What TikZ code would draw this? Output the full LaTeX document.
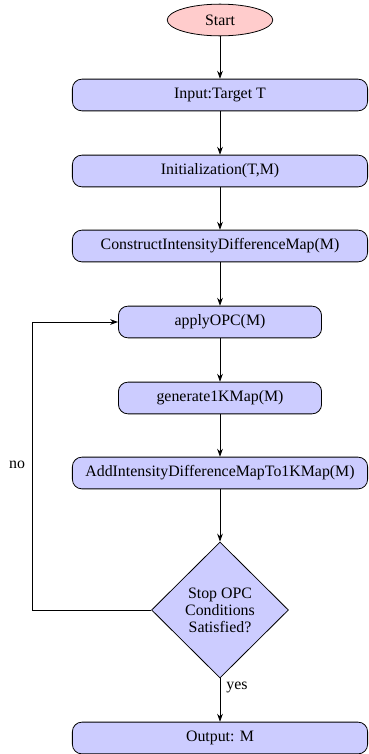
\documentclass[tikz,border=0pt]{standalone}
\usepackage{fontspec}
\setmainfont{Liberation Serif}
\usetikzlibrary{shapes.geometric,arrows.meta}
\begin{document}
\begin{tikzpicture}[x=0.63pt,y=-0.63pt,
  proc/.style={draw=black,fill=blue!20,rounded corners=6pt,minimum height=20pt,inner sep=2pt,line width=0.5pt,font=\fontsize{10}{12}\selectfont},
  wide/.style={proc,minimum width=186pt},
  narrow/.style={proc,minimum width=128pt},
  startbox/.style={ellipse,draw=black,fill=red!20,minimum width=66.5pt,minimum height=20pt,inner sep=1pt,line width=0.5pt,font=\fontsize{10}{12}\selectfont},
  decbox/.style={diamond,draw=black,fill=blue!20,minimum width=86.3pt,minimum height=85.7pt,inner sep=1pt,aspect=1,align=center,line width=0.5pt,font=\fontsize{10}{10.7}\selectfont},
  conn/.style={draw,line width=0.5pt,-{Stealth[length=5pt,width=3.6pt]}},
  lbl/.style={font=\fontsize{10}{12}\selectfont,inner sep=0pt}]
\useasboundingbox (0,0) rectangle (368,754);
\node[startbox] (start) at (220,20) {Start};
\node[wide] (input) at (220,95) {Input:Target T};
\node[wide] (init) at (220,171) {Initialization(T,M)};
\node[wide] (cidm) at (220,246) {ConstructIntensityDifferenceMap(M)};
\node[narrow] (apply) at (220,322) {applyOPC(M)};
\node[narrow] (gen) at (220,398) {generate1KMap(M)};
\node[wide] (add) at (220,473) {AddIntensityDifferenceMapTo1KMap(M)};
\node[decbox] (dec) at (220,610) {Stop OPC\\Conditions\\Satisfied?};
\node[wide] (out) at (220,738) {Output: M};
\coordinate (loop) at (32,610);
\draw[conn] (start) -- (input);
\draw[conn] (input) -- (init);
\draw[conn] (init) -- (cidm);
\draw[conn] (cidm) -- (apply);
\draw[conn] (apply) -- (gen);
\draw[conn] (gen) -- (add);
\draw[conn] (add) -- (dec);
\draw[conn] (dec) -- (out);
\draw[conn] (dec.west) -- (loop) |- (apply.west);
\node[lbl] (no) at (17,465) {no};
\node[lbl] (yes) at (237,687) {yes};
\end{tikzpicture}
\end{document}
